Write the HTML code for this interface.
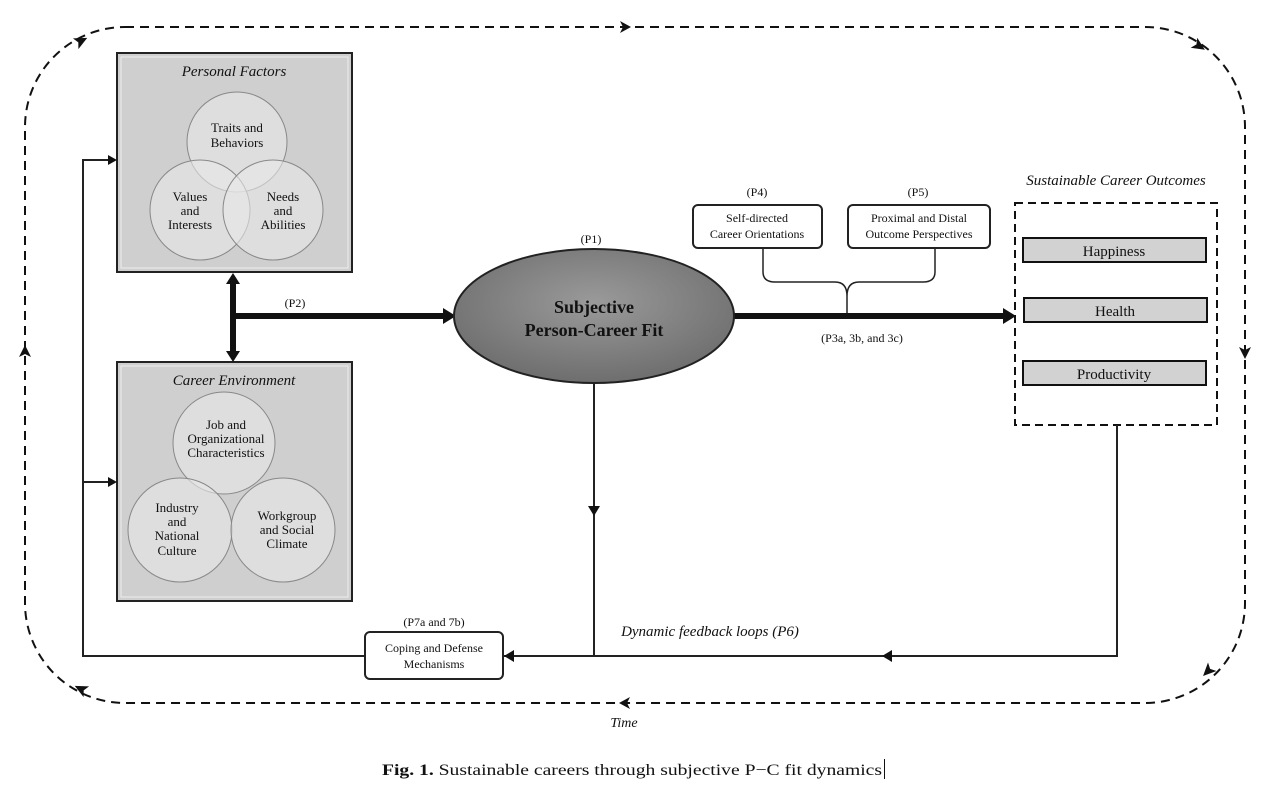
<!DOCTYPE html>
<html><head><meta charset="utf-8"><style>
html,body{margin:0;padding:0;background:#fff}
svg{display:block}
text{font-family:"Liberation Serif",serif;fill:#111}
</style></head><body>
<svg width="1280" height="790" viewBox="0 0 1280 790" xmlns="http://www.w3.org/2000/svg">
<defs>
<radialGradient id="eg" cx="50%" cy="40%" r="60%"><stop offset="0" stop-color="#9a9a9a"/><stop offset="1" stop-color="#6e6e6e"/></radialGradient>
</defs>
<!-- dashed time loop -->
<path d="M125,27 H1145 A100,100 0 0 1 1245,127 V603 A100,100 0 0 1 1145,703 H125 A100,100 0 0 1 25,603 V127 A100,100 0 0 1 125,27 Z" fill="none" stroke="#111" stroke-width="2" stroke-dasharray="9,6"/>
<g fill="#111">
<polygon points="631,27 620,21 623,27 620,33"/>
<polygon points="1245,359 1239,347 1245,350 1251,347"/>
<polygon points="619,703 630,697 627,703 630,709"/>
<polygon points="25,345 19,357 25,354 31,357"/>
<polygon points="7,0 -6,-6 -3,0 -6,6" transform="translate(1199,46) rotate(33)"/>
<polygon points="7,0 -6,-6 -3,0 -6,6" transform="translate(1208,671) rotate(135)"/>
<polygon points="7,0 -6,-6 -3,0 -6,6" transform="translate(81,689) rotate(207)"/>
<polygon points="7,0 -6,-6 -3,0 -6,6" transform="translate(81,41) rotate(333)"/>
</g>
<!-- Personal factors -->
<rect x="117" y="53" width="235" height="219" fill="#cfcfcf" stroke="#222" stroke-width="2"/>
<rect x="121" y="57" width="227" height="211" fill="none" stroke="#eee" stroke-width="1"/>
<g fill="#e8e8e8" fill-opacity="0.6" stroke="#888" stroke-width="1">
<circle cx="237" cy="142" r="50"/><circle cx="200" cy="210" r="50"/><circle cx="273" cy="210" r="50"/>
</g>
<text x="234" y="76" font-size="15" font-style="italic" text-anchor="middle">Personal Factors</text>
<g font-size="13" text-anchor="middle">
<text x="237" y="132">Traits and</text><text x="237" y="147">Behaviors</text>
<text x="190" y="201">Values</text><text x="190" y="215">and</text><text x="190" y="229">Interests</text>
<text x="283" y="201">Needs</text><text x="283" y="215">and</text><text x="283" y="229">Abilities</text>
</g>
<!-- Career env -->
<rect x="117" y="362" width="235" height="239" fill="#cfcfcf" stroke="#222" stroke-width="2"/>
<rect x="121" y="366" width="227" height="231" fill="none" stroke="#eee" stroke-width="1"/>
<g fill="#e8e8e8" fill-opacity="0.6" stroke="#888" stroke-width="1">
<circle cx="224" cy="443" r="51"/><circle cx="180" cy="530" r="52"/><circle cx="283" cy="530" r="52"/>
</g>
<text x="234" y="385" font-size="15" font-style="italic" text-anchor="middle">Career Environment</text>
<g font-size="13" text-anchor="middle">
<text x="226" y="429">Job and</text><text x="226" y="443">Organizational</text><text x="226" y="457">Characteristics</text>
<text x="177" y="512">Industry</text><text x="177" y="526">and</text><text x="177" y="540">National</text><text x="177" y="555">Culture</text>
<text x="287" y="520">Workgroup</text><text x="287" y="534">and Social</text><text x="287" y="548">Climate</text>
</g>
<!-- thick arrows -->
<g fill="#111">
<rect x="230" y="282" width="6" height="70"/>
<polygon points="233,273 226,284 240,284"/><polygon points="233,362 226,351 240,351"/>
<rect x="233" y="313" width="212" height="6"/>
<polygon points="456,316 443,308 443,324"/>
<rect x="734" y="313" width="270" height="6"/>
<polygon points="1016,316 1003,308 1003,324"/>
</g>
<text x="295" y="307" font-size="12" text-anchor="middle">(P2)</text>
<!-- ellipse -->
<ellipse cx="594" cy="316" rx="140" ry="67" fill="url(#eg)" stroke="#222" stroke-width="2"/>
<text x="594" y="313" font-size="18" font-weight="bold" text-anchor="middle">Subjective</text>
<text x="594" y="336" font-size="18" font-weight="bold" text-anchor="middle">Person-Career Fit</text>
<text x="591" y="243" font-size="12" text-anchor="middle">(P1)</text>
<!-- P4 P5 -->
<text x="757" y="196" font-size="12" text-anchor="middle">(P4)</text>
<text x="918" y="196" font-size="12" text-anchor="middle">(P5)</text>
<rect x="693" y="205" width="129" height="43" rx="5" fill="#fff" stroke="#222" stroke-width="2"/>
<rect x="848" y="205" width="142" height="43" rx="5" fill="#fff" stroke="#222" stroke-width="2"/>
<g font-size="12" text-anchor="middle">
<text x="757" y="222">Self-directed</text><text x="757" y="238">Career Orientations</text>
<text x="919" y="222">Proximal and Distal</text><text x="919" y="238">Outcome Perspectives</text>
</g>
<path d="M763,248 V272 Q763,282 775,282 H835 Q847,282 847,296 V313 M847,296 Q847,282 859,282 H923 Q935,282 935,272 V248" fill="none" stroke="#222" stroke-width="1.5"/>
<text x="862" y="342" font-size="12" text-anchor="middle">(P3a, 3b, and 3c)</text>
<!-- outcomes -->
<text x="1116" y="185" font-size="15" font-style="italic" text-anchor="middle">Sustainable Career Outcomes</text>
<rect x="1015" y="203" width="202" height="222" fill="none" stroke="#111" stroke-width="2" stroke-dasharray="8,5"/>
<g fill="#d2d2d2" stroke="#111" stroke-width="2">
<rect x="1023" y="238" width="183" height="24"/><rect x="1024" y="298" width="183" height="24"/><rect x="1023" y="361" width="183" height="24"/>
</g>
<g font-size="15" text-anchor="middle">
<text x="1114" y="256">Happiness</text><text x="1115" y="316">Health</text><text x="1114" y="379">Productivity</text>
</g>
<!-- feedback -->
<path d="M1117,425 V656 H503 M594,383 V656 M365,656 H83 V160 H110 M83,482 H110" fill="none" stroke="#222" stroke-width="2"/>
<g fill="#111">
<polygon points="882,656 892,650 892,662"/>
<polygon points="594,516 588,506 600,506"/>
<polygon points="504,656 514,650 514,662"/>
<polygon points="117,160 108,155 108,165"/>
<polygon points="117,482 108,477 108,487"/>
</g>
<rect x="365" y="632" width="138" height="47" rx="5" fill="#fff" stroke="#222" stroke-width="2"/>
<text x="434" y="652" font-size="12" text-anchor="middle">Coping and Defense</text>
<text x="434" y="668" font-size="12" text-anchor="middle">Mechanisms</text>
<text x="434" y="626" font-size="12" text-anchor="middle">(P7a and 7b)</text>
<text x="710" y="636" font-size="15" font-style="italic" text-anchor="middle">Dynamic feedback loops (P6)</text>
<text x="624" y="727" font-size="14" font-style="italic" text-anchor="middle">Time</text>
<text x="382" y="775" font-size="16" textLength="500" lengthAdjust="spacingAndGlyphs"><tspan font-weight="bold">Fig. 1.</tspan> Sustainable careers through subjective P−C fit dynamics</text>
<rect x="884" y="759" width="1" height="20" fill="#111"/>
</svg>
</body></html>
